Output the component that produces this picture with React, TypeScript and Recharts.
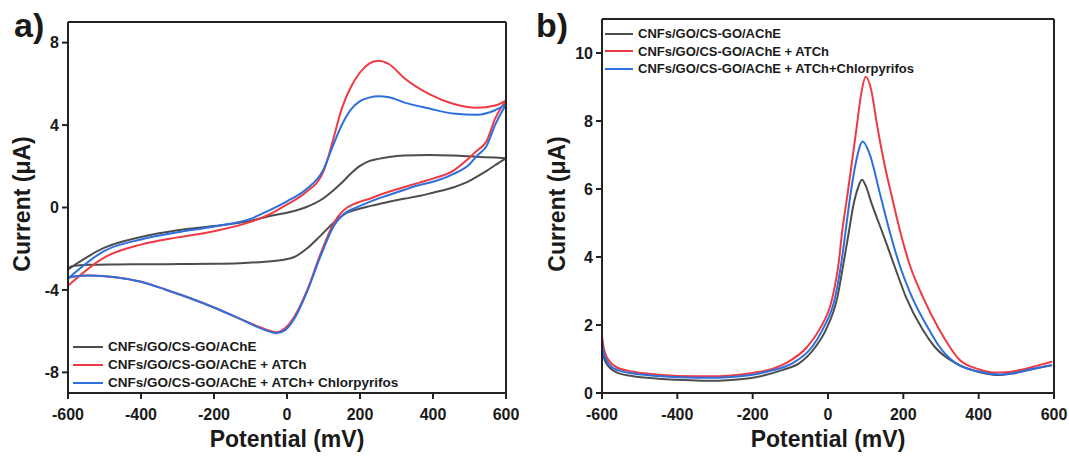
import React from 'react';
import { LineChart, Line, XAxis, YAxis } from 'recharts';

const FONT = '"Liberation Sans", Arial, Helvetica, sans-serif';
const INK = '#1a1a1a';

const cvNames = ['CNFs/GO/CS-GO/AChE', 'CNFs/GO/CS-GO/AChE + ATCh', 'CNFs/GO/CS-GO/AChE + ATCh+ Chlorpyrifos'];
const dpvNames = ['CNFs/GO/CS-GO/AChE', 'CNFs/GO/CS-GO/AChE + ATCh', 'CNFs/GO/CS-GO/AChE + ATCh+Chlorpyrifos'];
const colors = ['#4d4d4d', '#ee3a44', '#2d6fdc'];

const potentialTicks = [-600, -400, -200, 0, 200, 400, 600];
const cvCurrentTicks = [-8, -4, 0, 4, 8];
const dpvCurrentTicks = [0, 2, 4, 6, 8, 10];

// cyclic voltammetry: forward sweep (-600 -> 600 mV), then reverse sweep (600 -> -600 mV)
const cvForwardV = [-600, -500, -400, -300, -200, -100, -50, 0, 50, 100, 125, 150, 175, 200, 225, 250, 280, 320, 390, 455, 520, 570, 600];
const cvReverseV = [600, 570, 547, 520, 500, 455, 400, 365, 320, 273, 230, 181, 165, 130, 90, 57, 20, -5, -30, -60, -130, -200, -265, -330, -400, -470, -540, -590, -600];

const cvBlackFwd = [-3.0, -1.95, -1.43, -1.1, -0.9, -0.65, -0.42, -0.25, 0.0, 0.45, 0.8, 1.2, 1.65, 2.02, 2.25, 2.36, 2.45, 2.52, 2.55, 2.52, 2.46, 2.42, 2.39];
const cvBlackRev = [2.39, 2.05, 1.78, 1.5, 1.29, 0.97, 0.72, 0.57, 0.42, 0.25, 0.08, -0.15, -0.25, -0.7, -1.4, -1.95, -2.4, -2.52, -2.58, -2.63, -2.7, -2.73, -2.74, -2.75, -2.75, -2.76, -2.78, -2.85, -3.0];

const cvRedFwd = [-3.8, -2.42, -1.8, -1.45, -1.15, -0.7, -0.35, 0.15, 0.72, 1.75, 3.2, 4.8, 5.85, 6.55, 6.98, 7.12, 6.95, 6.3, 5.5, 5.03, 4.84, 4.95, 5.19];
const cvRedRev = [5.19, 4.3, 3.23, 2.75, 2.42, 1.78, 1.4, 1.22, 0.98, 0.73, 0.45, 0.15, 0.0, -0.7, -2.33, -3.94, -5.3, -5.85, -6.05, -5.9, -5.39, -4.85, -4.4, -4.0, -3.6, -3.38, -3.3, -3.36, -3.45];

const cvBlueFwd = [-3.45, -2.1, -1.55, -1.2, -0.92, -0.55, -0.15, 0.3, 0.85, 1.85, 2.95, 4.0, 4.75, 5.16, 5.33, 5.4, 5.35, 5.1, 4.8, 4.56, 4.5, 4.72, 5.0];
const cvBlueRev = [5.0, 4.0, 2.99, 2.5, 2.1, 1.62, 1.25, 1.1, 0.85, 0.57, 0.3, -0.07, -0.2, -0.85, -2.45, -4.0, -5.4, -5.95, -6.1, -5.95, -5.39, -4.85, -4.4, -4.0, -3.6, -3.38, -3.3, -3.36, -3.45];

// differential pulse voltammetry
const dpvBlackV = [-600, -595, -590, -580, -560, -520, -450, -350, -300, -250, -200, -120, -77, -33, -6, 25, 41, 56, 67, 80, 90, 100, 115, 135, 155, 176, 207, 252, 283, 340, 400, 455, 490, 530, 560, 595];
const dpvBlackI = [1.37, 1.05, 0.9, 0.75, 0.6, 0.5, 0.42, 0.37, 0.36, 0.39, 0.45, 0.68, 0.87, 1.36, 1.85, 2.82, 3.8, 4.78, 5.5, 6.05, 6.27, 6.1, 5.6, 5.0, 4.4, 3.75, 2.82, 1.85, 1.36, 0.87, 0.62, 0.53, 0.57, 0.67, 0.74, 0.82];

const dpvRedV = [-600, -595, -590, -580, -560, -520, -450, -350, -300, -250, -200, -150, -113, -55, -24, 12, 28, 38, 52, 64, 76, 88, 100, 115, 130, 148, 170, 191, 216, 252, 296, 323, 349, 400, 445, 480, 520, 560, 595];
const dpvRedI = [1.67, 1.3, 1.12, 0.93, 0.75, 0.63, 0.54, 0.49, 0.49, 0.52, 0.59, 0.7, 0.87, 1.36, 1.85, 2.82, 3.8, 4.78, 5.86, 6.83, 7.81, 8.79, 9.3, 8.9, 7.9, 6.83, 5.75, 4.78, 3.8, 2.82, 1.85, 1.36, 0.98, 0.7, 0.6, 0.62, 0.7, 0.82, 0.92];

const dpvBlueV = [-600, -595, -590, -580, -560, -520, -450, -350, -300, -250, -200, -150, -95, -42, -15, 19, 35, 47, 60, 75, 92, 110, 138, 163, 189, 223, 269, 296, 340, 400, 455, 490, 530, 560, 595];
const dpvBlueI = [1.47, 1.15, 1.0, 0.83, 0.68, 0.58, 0.5, 0.45, 0.45, 0.48, 0.54, 0.66, 0.87, 1.36, 1.85, 2.82, 3.8, 4.78, 5.86, 6.83, 7.4, 7.05, 5.86, 4.78, 3.8, 2.82, 1.85, 1.36, 0.87, 0.63, 0.54, 0.58, 0.68, 0.75, 0.82];

const pairs = (vs: number[], is: number[]) => vs.map((v, k) => ({ v, i: is[k] }));
// each sweep drawn as its own line, sorted by potential so the monotone curve holds
const sweep = (vs: number[], is: number[]) => pairs(vs, is).sort((a, b) => a.v - b.v);

const cvSeries = [
  [sweep(cvForwardV, cvBlackFwd), sweep(cvReverseV, cvBlackRev)],
  [sweep(cvForwardV, cvRedFwd), sweep(cvReverseV, cvRedRev)],
  [sweep(cvForwardV, cvBlueFwd), sweep(cvReverseV, cvBlueRev)],
];
const dpvSeries = [[pairs(dpvBlackV, dpvBlackI)], [pairs(dpvRedV, dpvRedI)], [pairs(dpvBlueV, dpvBlueI)]];

const tickStyle = { fontSize: 16, fontWeight: 700, fill: INK, fontFamily: FONT };
const frame = { stroke: '#222', strokeWidth: 2 };

const LegendBox = ({ names, left, top, rowH, lineW, fontSize }: any) => (
  <div style={{ position: 'absolute', left, top }}>
    {names.map((n: string, k: number) => (
      <div key={n} style={{ display: 'flex', alignItems: 'center', height: rowH }}>
        <span style={{ display: 'inline-block', width: lineW, height: 2, background: colors[k], marginRight: 5 }} />
        <span style={{ fontSize, fontWeight: 700, color: INK, whiteSpace: 'nowrap', lineHeight: 1 }}>{n}</span>
      </div>
    ))}
  </div>
);

const Title = ({ text, x, y, rotate }: any) => (
  <div
    style={{
      position: 'absolute', left: x, top: y, fontSize: 23, fontWeight: 700, color: INK,
      whiteSpace: 'nowrap', lineHeight: 1,
      transform: `translate(-50%, -50%)${rotate ? ' rotate(-90deg)' : ''}`,
    }}
  >
    {text}
  </div>
);

const Panel = ({ series, yDomain, yTicks, width, margin }: any) => (
  <LineChart width={width} height={456} margin={margin}>
    <XAxis dataKey="v" type="number" domain={[-600, 600]} ticks={potentialTicks} allowDataOverflow
      height={1} tick={tickStyle} tickSize={6} tickMargin={10} axisLine={frame} tickLine={frame} />
    <XAxis xAxisId="top" orientation="top" dataKey="v" type="number" domain={[-600, 600]}
      height={1} tick={false} tickLine={false} axisLine={frame} />
    <YAxis type="number" domain={yDomain} ticks={yTicks} allowDataOverflow
      width={1} tick={tickStyle} tickSize={6} tickMargin={3} axisLine={frame} tickLine={frame} />
    <YAxis yAxisId="right" orientation="right" type="number" domain={yDomain}
      width={1} tick={false} tickLine={false} axisLine={frame} />
    {series.map((parts: any[], k: number) =>
      parts.map((d: any, j: number) => (
        <Line key={`${k}-${j}`} data={d} dataKey="i" type="monotone" stroke={colors[k]}
          strokeWidth={2} dot={false} activeDot={false} isAnimationActive={false} />
      ))
    )}
  </LineChart>
);

export default function App() {
  return (
    <div style={{ position: 'absolute', left: 0, top: 0, width: 1069, height: 456, background: '#fff', fontFamily: FONT, overflow: 'hidden' }}>
      <div style={{ position: 'absolute', left: 0, top: 0 }}>
        <Panel series={cvSeries} yDomain={[-9, 9]} yTicks={cvCurrentTicks} width={530}
          margin={{ top: 21, right: 23, bottom: 62, left: 67 }} />
      </div>
      <div style={{ position: 'absolute', left: 530, top: 0 }}>
        <Panel series={dpvSeries} yDomain={[0, 11]} yTicks={dpvCurrentTicks} width={539}
          margin={{ top: 18, right: 14, bottom: 62, left: 71 }} />
      </div>

      <div style={{ position: 'absolute', left: 14, top: 8, fontSize: 34, fontWeight: 700, color: INK, lineHeight: 1 }}>a)</div>
      <div style={{ position: 'absolute', left: 536, top: 8, fontSize: 34, fontWeight: 700, color: INK, lineHeight: 1 }}>b)</div>

      <Title text="Current (μA)" x={22} y={204} rotate />
      <Title text="Current (μA)" x={557} y={204} rotate />
      <Title text="Potential (mV)" x={287} y={439} />
      <Title text="Potential (mV)" x={828} y={439} />

      <LegendBox names={cvNames} left={73} top={338} rowH={18} lineW={30} fontSize={13.5} />
      <LegendBox names={dpvNames} left={605} top={25} rowH={17.5} lineW={28} fontSize={13} />
    </div>
  );
}
